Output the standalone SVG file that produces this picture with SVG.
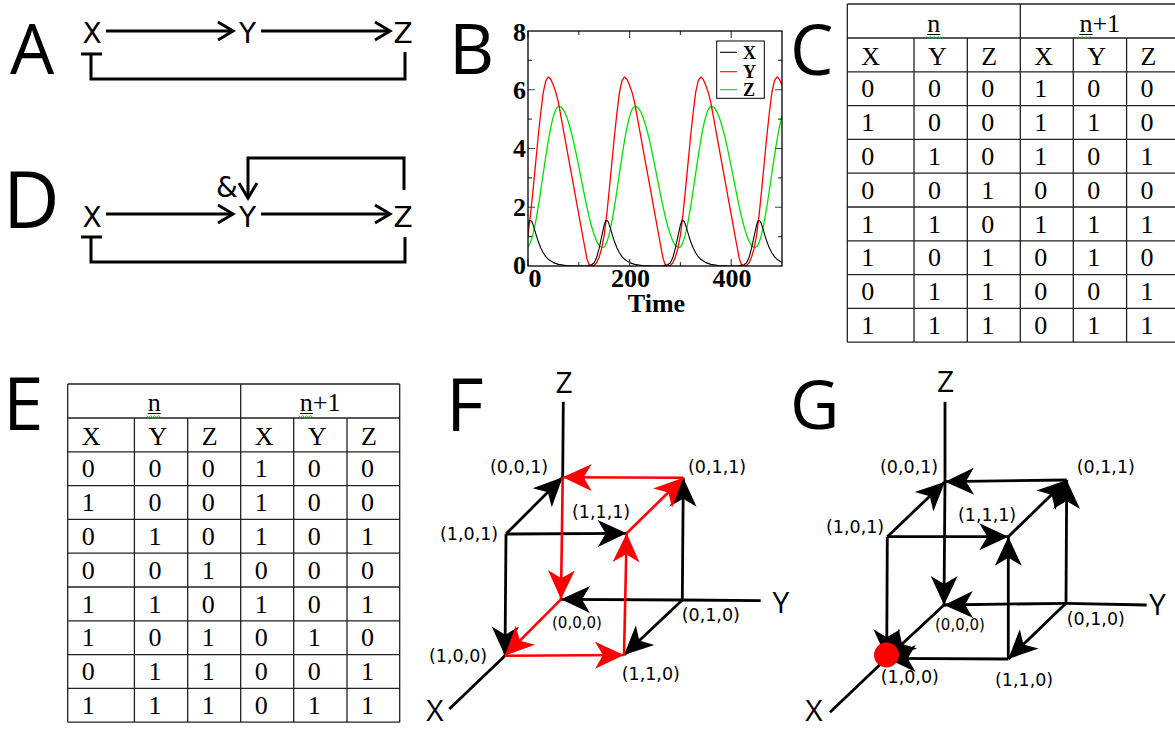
<svg xmlns="http://www.w3.org/2000/svg" xmlns:xlink="http://www.w3.org/1999/xlink" width="1175" height="729" viewBox="0 0 1175 729">
<style>
.pl{font-family:"Open Sans","DejaVu Sans",sans-serif;fill:#000}
.lab{font-family:"DejaVu Sans",sans-serif;font-size:28px;fill:#000;text-anchor:middle}
.ax{font-family:"Open Sans","DejaVu Sans",sans-serif;font-size:30px;fill:#000;text-anchor:middle}
.co{font-family:"DejaVu Sans",sans-serif;font-size:17.5px;fill:#000}
.co0{font-family:"DejaVu Sans",sans-serif;font-size:15px;fill:#000}
.tc{font-family:"Liberation Serif","Times New Roman",serif;font-size:26px;fill:#000}
.th{font-family:"Liberation Serif","Times New Roman",serif;font-size:26px;fill:#000;text-anchor:middle}
.grid{fill:none;stroke:#222;stroke-width:1.3}
.wire{fill:none;stroke:#000;stroke-width:3}
.blk{fill:none;stroke:#000;stroke-width:2.8}
.red{fill:none;stroke:#f00;stroke-width:2.6}
.num{font-family:"Liberation Serif","Times New Roman",serif;font-weight:bold;font-size:26px;fill:#000}
.leg{font-family:"Liberation Serif","Times New Roman",serif;font-weight:bold;font-size:18px;fill:#000}
.tick{fill:none;stroke:#444;stroke-width:1.2}
.sq{fill:none;stroke:#2a2;stroke-width:1}
.ul{fill:none;stroke:#000;stroke-width:1}
</style>
<defs>
<marker id="chev" viewBox="-18 -11 22 22" refX="0" refY="0" markerWidth="22" markerHeight="22" markerUnits="userSpaceOnUse" orient="auto" overflow="visible">
<path d="M-15,-9 L0,0 L-15,9" fill="none" stroke="#000" stroke-width="3"/>
</marker>
<marker id="ahB" viewBox="-31 -15 33 30" refX="0" refY="0" markerWidth="33" markerHeight="30" markerUnits="userSpaceOnUse" orient="auto" overflow="visible">
<path d="M0,0 L-29,-13.5 L-21,0 L-29,13.5 Z" fill="#000"/>
</marker>
<marker id="ahR" viewBox="-31 -15 33 30" refX="0" refY="0" markerWidth="33" markerHeight="30" markerUnits="userSpaceOnUse" orient="auto" overflow="visible">
<path d="M0,0 L-29,-13.5 L-21,0 L-29,13.5 Z" fill="#f00"/>
</marker>
<clipPath id="plotclip"><rect x="528" y="31" width="254" height="235"/></clipPath>
<path id="curveY" vector-effect="non-scaling-stroke" fill="none" stroke="#f00" stroke-width="1.3" stroke-linejoin="round" d="M40,6.44 L45,6.35 50,6.15 55,5.9 60,5.55 70,4.6 80,3.65 90,2.7 100,1.75 110,0.8 116,0.25 120,0.05 125,0 130,0.02 135,0.1 140,0.3 145,0.6 150,1.05 155,1.75 160,2.6 165,3.5 170,4.4 175,5.2 180,5.9 185,6.3 190,6.44"/>
<path id="curveZ" vector-effect="non-scaling-stroke" fill="none" stroke="#00e000" stroke-width="1.3" stroke-linejoin="round" d="M-3,0.62 L1,0.666 5,0.803 9,1.026 13,1.326 17,1.691 21,2.108 25,2.56 29,3.03 33,3.5 37,3.952 41,4.369 45,4.734 49,5.034 53,5.257 57,5.394 61,5.44 66.4,5.394 71.75,5.257 77.1,5.034 82.5,4.734 87.9,4.369 93.25,3.952 98.6,3.5 104,3.03 109.4,2.56 114.75,2.108 120.1,1.691 125.5,1.326 130.9,1.026 136.25,0.803 141.6,0.666 147,0.62"/>
<path id="curveX" vector-effect="non-scaling-stroke" fill="none" stroke="#000" stroke-width="1.1" stroke-linejoin="round" d="M-35,0 L-25,0.04 -20,0.1 -15,0.28 -10,0.6 -5,1.0 0,1.4 3,1.54 5,1.55 8,1.5 12,1.3 16,1.06 20,0.84 25,0.62 30,0.45 35,0.32 40,0.23 50,0.115 60,0.055 75,0.018 90,0.005 115,0"/>
</defs>
<rect width="1175" height="729" fill="#fff"/>

<!-- Panel A -->
<g id="panel-a">
<text class="pl" x="10" y="73.5" font-size="70">A</text>
<g id="a-x"><text class="lab" x="92" y="43">X</text></g>
<g id="a-y"><text class="lab" x="247.5" y="43">Y</text></g>
<g id="a-z"><text class="lab" x="403" y="43">Z</text></g>
<g id="a-connectors">
<path class="wire" d="M106,31 H233" marker-end="url(#chev)"/>
<path class="wire" d="M261,31 H390" marker-end="url(#chev)"/>
<path class="wire" d="M81,54 H102 M91,54 V79 H405 V52"/>
</g>
</g>

<!-- Panel D -->
<g id="panel-d">
<text class="pl" x="3" y="228" font-size="78">D</text>
<g id="d-x"><text class="lab" x="92" y="226.5">X</text></g>
<g id="d-y"><text class="lab" x="247.5" y="226.5">Y</text></g>
<g id="d-z"><text class="lab" x="403" y="226.5">Z</text></g>
<text class="lab" x="227" y="197" font-size="27">&amp;</text>
<g id="d-connectors">
<path class="wire" d="M106,214 H233" marker-end="url(#chev)"/>
<path class="wire" d="M261,214 H390" marker-end="url(#chev)"/>
<path class="wire" d="M404,190 V158 H248 V198" marker-end="url(#chev)"/>
<path class="wire" d="M81,237 H102 M91,237 V262 H405 V237"/>
</g>
</g>

<!-- Panel B -->
<g id="panel-b">
<text class="pl" x="449" y="74" font-size="70">B</text>
<g clip-path="url(#plotclip)">
<g transform="translate(528,266) scale(0.508,-29.375)">
<use xlink:href="#curveZ"/>
<use xlink:href="#curveZ" transform="translate(150,0)"/>
<use xlink:href="#curveZ" transform="translate(300,0)"/>
<use xlink:href="#curveZ" transform="translate(450,0)"/>
<use xlink:href="#curveY" transform="translate(-150,0)"/>
<use xlink:href="#curveY"/>
<use xlink:href="#curveY" transform="translate(150,0)"/>
<use xlink:href="#curveY" transform="translate(300,0)"/>
<use xlink:href="#curveY" transform="translate(450,0)"/>
<use xlink:href="#curveX"/>
<use xlink:href="#curveX" transform="translate(150,0)"/>
<use xlink:href="#curveX" transform="translate(300,0)"/>
<use xlink:href="#curveX" transform="translate(450,0)"/>
</g>
</g>
<path class="tick" d="M528,266 v-7 M578.8,266 v-4 M629.6,266 v-7 M680.4,266 v-4 M731.2,266 v-7 M528,31 v7 M578.8,31 v4 M629.6,31 v7 M680.4,31 v4 M731.2,31 v7 M528,236.6 h4 M528,207.25 h7 M528,177.9 h4 M528,148.5 h7 M528,119.1 h4 M528,89.75 h7 M528,60.4 h4 M782,236.6 h-4 M782,207.25 h-7 M782,177.9 h-4 M782,148.5 h-7 M782,119.1 h-4 M782,89.75 h-7 M782,60.4 h-4"/>
<rect x="528" y="31" width="254" height="235" fill="none" stroke="#000" stroke-width="1.3"/>
<text class="num" text-anchor="end" x="526" y="273.5">0</text>
<text class="num" text-anchor="end" x="526" y="215.5">2</text>
<text class="num" text-anchor="end" x="526" y="157">4</text>
<text class="num" text-anchor="end" x="526" y="98.5">6</text>
<text class="num" text-anchor="end" x="526" y="41">8</text>
<text class="num" text-anchor="middle" x="535" y="287">0</text>
<text class="num" text-anchor="middle" x="630.6" y="287">200</text>
<text class="num" text-anchor="middle" x="732" y="287">400</text>
<text class="num" text-anchor="middle" x="656.5" y="311.5" font-size="31">Time</text>
<g id="b-legend">
<rect x="716.7" y="41" width="47.6" height="57.3" fill="#fff" stroke="#000" stroke-width="1"/>
<path d="M720,52.3 H737" stroke="#000" stroke-width="1.1"/>
<path d="M720,71.7 H737" stroke="#f00" stroke-width="1.1"/>
<path d="M720,89.7 H737" stroke="#00e000" stroke-width="1.1"/>
<text class="leg" x="743" y="58.5">X</text>
<text class="leg" x="743" y="77.7">Y</text>
<text class="leg" x="743" y="96">Z</text>
</g>
</g>

<!-- Panel C -->
<g id="panel-c">
<text class="pl" x="790" y="74.5" font-size="69">C</text>
<g transform="translate(847.3,4)">
<path class="grid" d="M0,0 H332 M0,34 H332 M0,67.8 H332 M0,101.6 H332 M0,135.4 H332 M0,169.2 H332 M0,203 H332 M0,236.8 H332 M0,270.6 H332 M0,304.4 H332 M0,338.2 H332 M0,0 V338.2 M173,0 V338.2 M332,0 V338.2 M66.7,34 V338.2 M120,34 V338.2 M226,34 V338.2 M279.3,34 V338.2"/>
<text class="th" x="86.5" y="28">n</text>
<text class="th" x="252.5" y="28">n+1</text>
<path class="ul" d="M80,30.5 H93 M232.2,30.5 H245.2"/>
<path class="sq" d="M79,32.5 l2,2 2,-2 2,2 2,-2 2,2 2,-2 2,2 M231,32.5 l2,2 2,-2 2,2 2,-2 2,2 2,-2 2,2"/>
<text class="tc" y="61"><tspan x="14">X</tspan><tspan x="80.7">Y</tspan><tspan x="134">Z</tspan><tspan x="187">X</tspan><tspan x="240">Y</tspan><tspan x="293.3">Z</tspan></text>
<text class="tc" y="93.3"><tspan x="14">0</tspan><tspan x="80.7">0</tspan><tspan x="134">0</tspan><tspan x="187">1</tspan><tspan x="240">0</tspan><tspan x="293.3">0</tspan></text>
<text class="tc" y="127.1"><tspan x="14">1</tspan><tspan x="80.7">0</tspan><tspan x="134">0</tspan><tspan x="187">1</tspan><tspan x="240">1</tspan><tspan x="293.3">0</tspan></text>
<text class="tc" y="160.9"><tspan x="14">0</tspan><tspan x="80.7">1</tspan><tspan x="134">0</tspan><tspan x="187">1</tspan><tspan x="240">0</tspan><tspan x="293.3">1</tspan></text>
<text class="tc" y="194.7"><tspan x="14">0</tspan><tspan x="80.7">0</tspan><tspan x="134">1</tspan><tspan x="187">0</tspan><tspan x="240">0</tspan><tspan x="293.3">0</tspan></text>
<text class="tc" y="228.5"><tspan x="14">1</tspan><tspan x="80.7">1</tspan><tspan x="134">0</tspan><tspan x="187">1</tspan><tspan x="240">1</tspan><tspan x="293.3">1</tspan></text>
<text class="tc" y="262.3"><tspan x="14">1</tspan><tspan x="80.7">0</tspan><tspan x="134">1</tspan><tspan x="187">0</tspan><tspan x="240">1</tspan><tspan x="293.3">0</tspan></text>
<text class="tc" y="296.1"><tspan x="14">0</tspan><tspan x="80.7">1</tspan><tspan x="134">1</tspan><tspan x="187">0</tspan><tspan x="240">0</tspan><tspan x="293.3">1</tspan></text>
<text class="tc" y="329.9"><tspan x="14">1</tspan><tspan x="80.7">1</tspan><tspan x="134">1</tspan><tspan x="187">0</tspan><tspan x="240">1</tspan><tspan x="293.3">1</tspan></text>
</g>
</g>

<!-- Panel E -->
<g id="panel-e">
<text class="pl" x="3" y="430" font-size="73">E</text>
<g transform="translate(67.7,384)">
<path class="grid" d="M0,0 H332 M0,34 H332 M0,67.8 H332 M0,101.6 H332 M0,135.4 H332 M0,169.2 H332 M0,203 H332 M0,236.8 H332 M0,270.6 H332 M0,304.4 H332 M0,338.2 H332 M0,0 V338.2 M173,0 V338.2 M332,0 V338.2 M66.7,34 V338.2 M120,34 V338.2 M226,34 V338.2 M279.3,34 V338.2"/>
<text class="th" x="86.5" y="27">n</text>
<text class="th" x="252.5" y="27">n+1</text>
<path class="ul" d="M80,29.5 H93 M232.2,29.5 H245.2"/>
<path class="sq" d="M79,31.5 l2,2 2,-2 2,2 2,-2 2,2 2,-2 2,2 M231,31.5 l2,2 2,-2 2,2 2,-2 2,2 2,-2 2,2"/>
<text class="tc" y="61"><tspan x="14">X</tspan><tspan x="80.7">Y</tspan><tspan x="134">Z</tspan><tspan x="187">X</tspan><tspan x="240">Y</tspan><tspan x="293.3">Z</tspan></text>
<text class="tc" y="93.3"><tspan x="14">0</tspan><tspan x="80.7">0</tspan><tspan x="134">0</tspan><tspan x="187">1</tspan><tspan x="240">0</tspan><tspan x="293.3">0</tspan></text>
<text class="tc" y="127.1"><tspan x="14">1</tspan><tspan x="80.7">0</tspan><tspan x="134">0</tspan><tspan x="187">1</tspan><tspan x="240">0</tspan><tspan x="293.3">0</tspan></text>
<text class="tc" y="160.9"><tspan x="14">0</tspan><tspan x="80.7">1</tspan><tspan x="134">0</tspan><tspan x="187">1</tspan><tspan x="240">0</tspan><tspan x="293.3">1</tspan></text>
<text class="tc" y="194.7"><tspan x="14">0</tspan><tspan x="80.7">0</tspan><tspan x="134">1</tspan><tspan x="187">0</tspan><tspan x="240">0</tspan><tspan x="293.3">0</tspan></text>
<text class="tc" y="228.5"><tspan x="14">1</tspan><tspan x="80.7">1</tspan><tspan x="134">0</tspan><tspan x="187">1</tspan><tspan x="240">0</tspan><tspan x="293.3">1</tspan></text>
<text class="tc" y="262.3"><tspan x="14">1</tspan><tspan x="80.7">0</tspan><tspan x="134">1</tspan><tspan x="187">0</tspan><tspan x="240">1</tspan><tspan x="293.3">0</tspan></text>
<text class="tc" y="296.1"><tspan x="14">0</tspan><tspan x="80.7">1</tspan><tspan x="134">1</tspan><tspan x="187">0</tspan><tspan x="240">0</tspan><tspan x="293.3">1</tspan></text>
<text class="tc" y="329.9"><tspan x="14">1</tspan><tspan x="80.7">1</tspan><tspan x="134">1</tspan><tspan x="187">0</tspan><tspan x="240">1</tspan><tspan x="293.3">1</tspan></text>
</g>
</g>

<!-- Panel F -->
<g id="panel-f">
<text class="pl" x="446" y="431" font-size="73">F</text>
<g id="f-axes">
<path class="blk" d="M563.3,401.7 L562.7,477.3 M682.3,600 L760.7,600.7 M505,655.7 L449.3,709"/>
<text class="ax" x="564" y="393">Z</text>
<text class="ax" x="781" y="613">Y</text>
<text class="ax" x="435" y="720.5" font-size="28">X</text>
</g>
<g id="f-connectors">
<path class="blk" d="M506,534 L562.7,477.3" marker-end="url(#ahB)"/>
<path class="blk" d="M506,534 L626.7,533.3" marker-end="url(#ahB)"/>
<path class="blk" d="M506,534 L505,655.7" marker-end="url(#ahB)"/>
<path class="blk" d="M682.3,600 L683.3,477.7" marker-end="url(#ahB)"/>
<path class="blk" d="M682.3,600 L561,599.3" marker-end="url(#ahB)"/>
<path class="blk" d="M682.3,600 L624,655" marker-end="url(#ahB)"/>
<path class="red" d="M683.3,477.7 L562.7,477.3" marker-end="url(#ahR)"/>
<path class="red" d="M626.7,533.3 L683.3,477.7" marker-end="url(#ahR)"/>
<path class="red" d="M562.7,477.3 L561,599.3" marker-end="url(#ahR)"/>
<path class="red" d="M561,599.3 L505,655.7" marker-end="url(#ahR)"/>
<path class="red" d="M505,655.7 L624,655" marker-end="url(#ahR)"/>
<path class="red" d="M624,655 L626.7,533.3" marker-end="url(#ahR)"/>
</g>
<g id="f-n001"><text class="co" x="490" y="473">(0,0,1)</text></g>
<g id="f-n011"><text class="co" x="688" y="473">(0,1,1)</text></g>
<g id="f-n111"><text class="co" x="572" y="518">(1,1,1)</text></g>
<g id="f-n101"><text class="co" x="440" y="540">(1,0,1)</text></g>
<g id="f-n000"><text class="co0" x="552" y="628">(0,0,0)</text></g>
<g id="f-n010"><text class="co" x="681.7" y="621">(0,1,0)</text></g>
<g id="f-n100"><text class="co" x="429" y="662">(1,0,0)</text></g>
<g id="f-n110"><text class="co" x="621.7" y="680">(1,1,0)</text></g>
</g>

<!-- Panel G -->
<g id="panel-g">
<text class="pl" x="790" y="429" font-size="68">G</text>
<g id="g-axes">
<path class="blk" d="M945,401.7 L945,481.7 M1066,603.3 L1146.7,605 M886.7,658.3 L830,712.3"/>
<text class="ax" x="945.5" y="392">Z</text>
<text class="ax" x="1157.5" y="615">Y</text>
<text class="ax" x="814" y="720.5" font-size="28">X</text>
</g>
<g id="g-connectors">
<path class="blk" d="M887.3,536.7 L945,481.7" marker-end="url(#ahB)"/>
<path class="blk" d="M1066.7,480 L945,481.7" marker-end="url(#ahB)"/>
<path class="blk" d="M1008.3,536.7 L1066.7,480" marker-end="url(#ahB)"/>
<path class="blk" d="M1066,603.3 L1066.7,480" marker-end="url(#ahB)"/>
<path class="blk" d="M887.3,536.7 L1008.3,536.7" marker-end="url(#ahB)"/>
<path class="blk" d="M1008.3,659 L1008.3,536.7" marker-end="url(#ahB)"/>
<path class="blk" d="M945,481.7 L944,605" marker-end="url(#ahB)"/>
<path class="blk" d="M1066,603.3 L944,605" marker-end="url(#ahB)"/>
<path class="blk" d="M1066,603.3 L1008.3,659" marker-end="url(#ahB)"/>
<path class="blk" d="M944,605 L886.7,658.3" marker-end="url(#ahB)"/>
<path class="blk" d="M887.3,536.7 L886.7,658.3" marker-end="url(#ahB)"/>
<path class="blk" d="M1008.3,659 L886.7,658.3" marker-end="url(#ahB)"/>
</g>
<circle id="g-fixed" cx="886.5" cy="655" r="12.5" fill="#f00"/>
<g id="g-n001"><text class="co" x="880" y="473">(0,0,1)</text></g>
<g id="g-n011"><text class="co" x="1076.7" y="473">(0,1,1)</text></g>
<g id="g-n111"><text class="co" x="958" y="521">(1,1,1)</text></g>
<g id="g-n101"><text class="co" x="826" y="533">(1,0,1)</text></g>
<g id="g-n000"><text class="co0" x="935" y="629.5">(0,0,0)</text></g>
<g id="g-n010"><text class="co" x="1066.7" y="624.5">(0,1,0)</text></g>
<g id="g-n100"><text class="co" x="880.7" y="683">(1,0,0)</text></g>
<g id="g-n110"><text class="co" x="995" y="686">(1,1,0)</text></g>
</g>
</svg>
